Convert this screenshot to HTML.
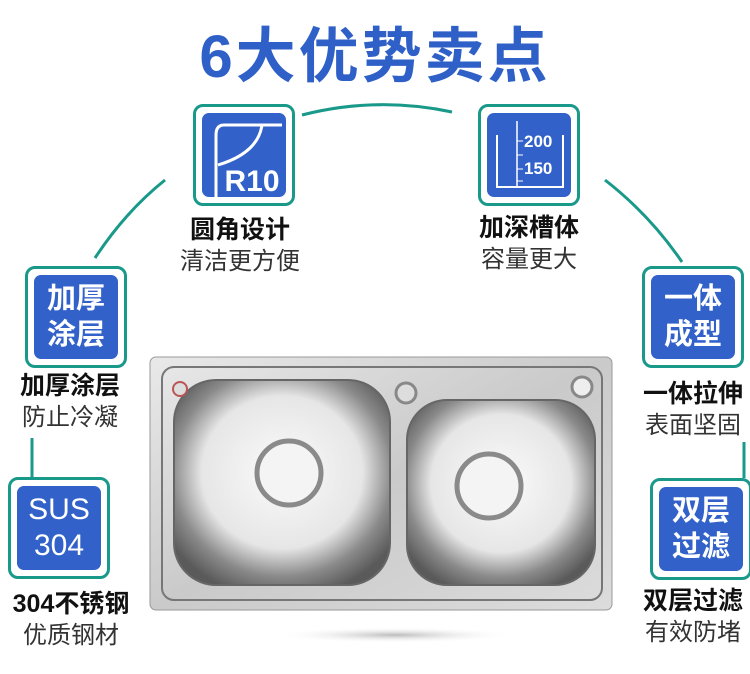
<!DOCTYPE html>
<html><head><meta charset="utf-8"><style>
body{margin:0;width:750px;height:674px;background:#fff;position:relative;overflow:hidden;font-family:"Liberation Sans","Noto Sans CJK SC",sans-serif}
.t{position:absolute;left:0;width:750px;top:8px;text-align:center;font-size:60px;font-weight:bold;color:#2f60c8;letter-spacing:3px}
.box{position:absolute;width:96px;height:96px;border:3px solid #19998a;border-radius:10px;background:#fff}
.in{position:absolute;left:6px;top:6px;width:84px;height:84px;background:#3262c9;border-radius:7px;color:#fff;font-size:29px;font-weight:bold;line-height:36px;text-align:center;display:flex;flex-direction:column;justify-content:center}
.l{position:absolute;text-align:center;width:150px;background:#fff}
.b{font-size:25px;font-weight:bold;color:#111;line-height:32px}
.s{font-size:24px;color:#333;line-height:32px}
</style></head><body>
<svg width="750" height="674" style="position:absolute;left:0;top:0">
<path d="M302,115 Q376,96 452,112" stroke="#19998a" stroke-width="3" fill="none"/>
<path d="M95,258 Q125,212 165,180" stroke="#19998a" stroke-width="3" fill="none"/>
<path d="M605,180 Q650,215 682,262" stroke="#19998a" stroke-width="3" fill="none"/>
<line x1="32" y1="438" x2="32" y2="478" stroke="#19998a" stroke-width="3"/>
<line x1="744" y1="438" x2="744" y2="478" stroke="#19998a" stroke-width="3"/>
<defs>
<linearGradient id="m" x1="0" y1="0" x2="1" y2="1"><stop offset="0" stop-color="#e9e9e9"/><stop offset=".5" stop-color="#cacaca"/><stop offset="1" stop-color="#dcdcdc"/></linearGradient>
<radialGradient id="bw" cx=".5" cy=".45" r=".62"><stop offset="0" stop-color="#fbfbfb"/><stop offset=".6" stop-color="#e6e6e6"/><stop offset=".82" stop-color="#8a8a8a"/><stop offset="1" stop-color="#5a5a5a"/></radialGradient>
<radialGradient id="sh" cx=".5" cy=".5" r=".5"><stop offset="0" stop-color="#bbb"/><stop offset="1" stop-color="#fff" stop-opacity="0"/></radialGradient>
</defs>
<ellipse cx="395" cy="635" rx="120" ry="8" fill="url(#sh)"/>
<rect x="150" y="357" width="462" height="253" rx="6" fill="url(#m)" stroke="#999"/>
<rect x="162" y="367" width="440" height="233" rx="12" fill="none" stroke="#777" stroke-width="2"/>
<rect x="174" y="380" width="216" height="205" rx="42" fill="url(#bw)" stroke="#666" stroke-width="2"/>
<rect x="407" y="400" width="188" height="185" rx="40" fill="url(#bw)" stroke="#666" stroke-width="2"/>
<circle cx="289" cy="473" r="32" fill="#f4f4f4" stroke="#8a8a8a" stroke-width="5"/>
<circle cx="489" cy="486" r="32" fill="#f4f4f4" stroke="#8a8a8a" stroke-width="5"/>
<circle cx="406" cy="393" r="10" fill="#ddd" stroke="#888" stroke-width="3"/>
<circle cx="582" cy="387" r="10" fill="#eee" stroke="#888" stroke-width="3"/>
<circle cx="180" cy="389" r="7" fill="#ddd" stroke="#b55" stroke-width="2"/>
</svg>
<div class="t">6大优势卖点</div>

<div class="box" style="left:193px;top:104px"><div class="in" style="display:block">
<svg width="84" height="84"><path d="M80,12 H22 Q14,12 14,22 V84" stroke="#fff" stroke-width="3" fill="none"/><path d="M60,12 Q56,40 16,52" stroke="#fff" stroke-width="3" fill="none"/><text x="50" y="78" font-size="30" fill="#fff" text-anchor="middle" font-family="Liberation Sans">R10</text></svg></div></div>
<div class="l" style="left:165px;top:214px"><div class="b">圆角设计</div><div class="s">清洁更方便</div></div>

<div class="box" style="left:478px;top:104px"><div class="in" style="display:block">
<svg width="84" height="84"><path d="M10,22 V74 H76 V22" stroke="#fff" stroke-width="2" fill="none"/><line x1="30" y1="8" x2="30" y2="74" stroke="#fff" stroke-width="1.5"/><line x1="30" y1="28" x2="36" y2="28" stroke="#fff"/><line x1="30" y1="42" x2="36" y2="42" stroke="#fff"/><line x1="30" y1="56" x2="36" y2="56" stroke="#fff"/><line x1="30" y1="68" x2="36" y2="68" stroke="#fff"/><text x="37" y="34" font-size="17" fill="#fff" font-family="Liberation Sans">200</text><text x="37" y="61" font-size="17" fill="#fff" font-family="Liberation Sans">150</text></svg></div></div>
<div class="l" style="left:454px;top:212px"><div class="b">加深槽体</div><div class="s">容量更大</div></div>

<div class="box" style="left:25px;top:266px"><div class="in">加厚<br>涂层</div></div>
<div class="l" style="left:-5px;top:370px"><div class="b">加厚涂层</div><div class="s">防止冷凝</div></div>

<div class="box" style="left:8px;top:477px"><div class="in" style="font-weight:normal;font-size:30px">SUS<br>304</div></div>
<div class="l" style="left:-4px;top:588px"><div class="b">304不锈钢</div><div class="s">优质钢材</div></div>

<div class="box" style="left:642px;top:266px"><div class="in">一体<br>成型</div></div>
<div class="l" style="left:618px;top:378px"><div class="b">一体拉伸</div><div class="s">表面坚固</div></div>

<div class="box" style="left:650px;top:478px"><div class="in">双层<br>过滤</div></div>
<div class="l" style="left:618px;top:585px"><div class="b">双层过滤</div><div class="s">有效防堵</div></div>
</body></html>
